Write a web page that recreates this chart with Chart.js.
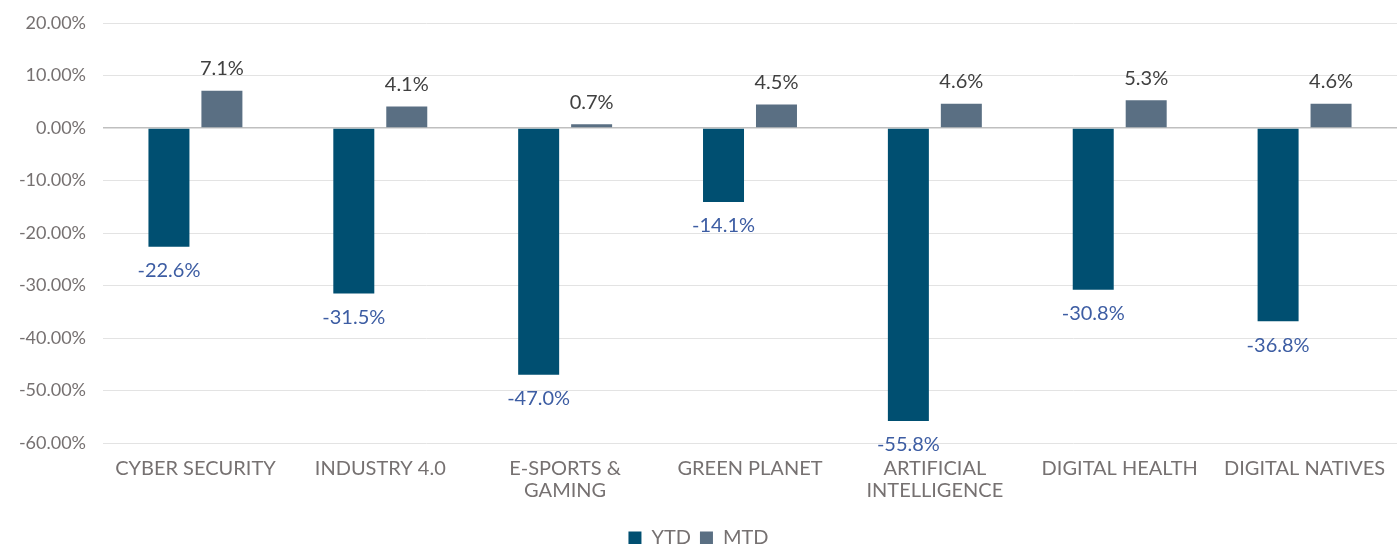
<!DOCTYPE html>
<html>
<head>
<meta charset="utf-8">
<script src="https://cdn.jsdelivr.net/npm/chart.js@4.4.1/dist/chart.umd.min.js"></script>
<style>
html,body{margin:0;padding:0;background:#fff;overflow:hidden;}
#wrap{width:1397px;height:560px;position:relative;}
</style>
</head>
<body>
<div id="wrap"><canvas id="c"></canvas></div>
<script>
const categories = ["CYBER SECURITY", "INDUSTRY 4.0", ["E-SPORTS &", "GAMING"], "GREEN PLANET", ["ARTIFICIAL", "INTELLIGENCE"], "DIGITAL HEALTH", "DIGITAL NATIVES"];
const ytdValues = [-22.6, -31.5, -47.0, -14.1, -55.8, -30.8, -36.8];
const mtdValues = [7.1, 4.1, 0.7, 4.5, 4.6, 5.3, 4.6];
const seriesNames = ["YTD", "MTD"];

const FONT = "Lato, 'Open Sans', sans-serif";

const labelPlugin = {
  id: 'barLabels',
  afterDatasetsDraw(chart) {
    const ctx = chart.ctx;
    ctx.save();
    ctx.font = "20px " + FONT;
    ctx.textAlign = 'center';
    ctx.textBaseline = 'middle';
    chart.data.datasets.forEach((ds, di) => {
      const meta = chart.getDatasetMeta(di);
      meta.data.forEach((bar, i) => {
        const v = ds.data[i];
        const txt = v.toFixed(1) + '%';
        if (v < 0) {
          ctx.fillStyle = '#3D5DA3';
          ctx.fillText(txt, bar.x, bar.y + 24);
        } else {
          ctx.fillStyle = '#404040';
          ctx.fillText(txt, bar.x, bar.y - 22);
        }
      });
    });
    ctx.restore();
  }
};

new Chart(document.getElementById('c'), {
  type: 'bar',
  data: {
    labels: categories,
    datasets: [
      { label: seriesNames[0], data: ytdValues, backgroundColor: '#004F71', categoryPercentage: 0.573, barPercentage: 0.774 },
      { label: seriesNames[1], data: mtdValues, backgroundColor: '#5A6F83', categoryPercentage: 0.573, barPercentage: 0.774 }
    ]
  },
  options: {
    responsive: true,
    maintainAspectRatio: false,
    animation: false,
    layout: { padding: { top: 23, right: 0, bottom: 2, left: 0 } },
    plugins: {
      legend: {
        position: 'bottom',
        labels: { boxWidth: 13, boxHeight: 13, color: '#767171', font: { family: FONT, size: 20 }, padding: 9 }
      },
      tooltip: { enabled: false }
    },
    scales: {
      x: {
        grid: { display: false, drawTicks: false },
        border: { display: false },
        ticks: { color: '#767171', font: { family: FONT, size: 20, lineHeight: 1.1 }, padding: 15, maxRotation: 0, autoSkip: false },
        afterFit(s) { s.height = 76; s.paddingLeft = 0; s.paddingRight = 0; }
      },
      y: {
        min: -60, max: 20,
        grid: {
          drawTicks: false,
          color: (c) => c.tick && c.tick.value === 0 ? '#BFBFBF' : '#E3E3E3',
          lineWidth: (c) => c.tick && c.tick.value === 0 ? 1.5 : 1
        },
        border: { display: false },
        ticks: { stepSize: 10, color: '#767171', font: { family: FONT, size: 18 }, padding: 17, callback: (v) => v.toFixed(2) + '%' },
        afterFit(s) { s.width = 103; s.paddingTop = 0; s.paddingBottom = 0; }
      }
    }
  },
  plugins: [labelPlugin]
});
</script>
</body>
</html>
